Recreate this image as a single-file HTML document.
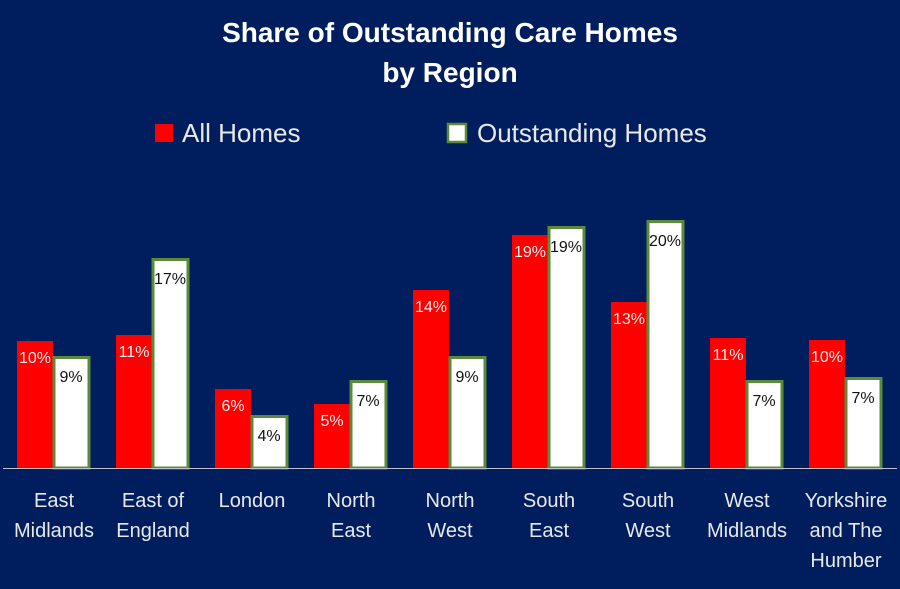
<!DOCTYPE html>
<html><head><meta charset="utf-8"><style>
body{margin:0;background:#001E5E;}
svg{display:block;font-family:"Liberation Sans",sans-serif;}
.rl{fill:#f0f0f0;font-size:16px;text-anchor:middle}
.wl{fill:#111;font-size:16px;text-anchor:middle}
.c{fill:#e8e8e8;font-size:20px;text-anchor:middle}
.r{fill:#f00}
.w{fill:#fff;stroke:#5a8a3a;stroke-width:3}
</style></head><body>
<svg width="900" height="589" viewBox="0 0 900 589">
<rect width="900" height="589" fill="#001E5E"/>
<text x="450" y="42" text-anchor="middle" fill="#fff" font-size="28" font-weight="bold">Share of Outstanding Care Homes</text>
<text x="450" y="82" text-anchor="middle" fill="#fff" font-size="28" font-weight="bold">by Region</text>
<rect x="155" y="124" width="18" height="18" fill="#f00"/>
<text x="182" y="142" fill="#e8e8e8" font-size="26">All Homes</text>
<rect x="448" y="124" width="18" height="18" fill="#fff" stroke="#5a8a3a" stroke-width="2.5"/>
<text x="477" y="142" fill="#e8e8e8" font-size="26">Outstanding Homes</text>

<rect class="r" x="17" y="341" width="36" height="127"/>
<rect class="w" x="54" y="357.5" width="35" height="110.5"/>
<text class="rl" x="35" y="363">10%</text><text class="wl" x="71" y="382">9%</text>
<text class="c" x="54" y="507">East</text><text class="c" x="54" y="537">Midlands</text>

<rect class="r" x="116" y="335" width="36" height="133"/>
<rect class="w" x="153" y="259.5" width="35" height="208.5"/>
<text class="rl" x="134" y="357">11%</text><text class="wl" x="170" y="284">17%</text>
<text class="c" x="153" y="507">East of</text><text class="c" x="153" y="537">England</text>

<rect class="r" x="215" y="389" width="36" height="79"/>
<rect class="w" x="252" y="416.5" width="35" height="51.5"/>
<text class="rl" x="233" y="411">6%</text><text class="wl" x="269" y="441">4%</text>
<text class="c" x="252" y="507">London</text>

<rect class="r" x="314" y="404" width="36" height="64"/>
<rect class="w" x="351" y="381.5" width="35" height="86.5"/>
<text class="rl" x="332" y="426">5%</text><text class="wl" x="368" y="406">7%</text>
<text class="c" x="351" y="507">North</text><text class="c" x="351" y="537">East</text>

<rect class="r" x="413" y="290" width="36" height="178"/>
<rect class="w" x="450" y="357.5" width="35" height="110.5"/>
<text class="rl" x="431" y="312">14%</text><text class="wl" x="467" y="382">9%</text>
<text class="c" x="450" y="507">North</text><text class="c" x="450" y="537">West</text>

<rect class="r" x="512" y="235" width="36" height="233"/>
<rect class="w" x="549" y="227.5" width="35" height="240.5"/>
<text class="rl" x="530" y="257">19%</text><text class="wl" x="566" y="252">19%</text>
<text class="c" x="549" y="507">South</text><text class="c" x="549" y="537">East</text>

<rect class="r" x="611" y="302" width="36" height="166"/>
<rect class="w" x="648" y="221.5" width="35" height="246.5"/>
<text class="rl" x="629" y="324">13%</text><text class="wl" x="665" y="246">20%</text>
<text class="c" x="648" y="507">South</text><text class="c" x="648" y="537">West</text>

<rect class="r" x="710" y="338" width="36" height="130"/>
<rect class="w" x="747" y="381.5" width="35" height="86.5"/>
<text class="rl" x="728" y="360">11%</text><text class="wl" x="764" y="406">7%</text>
<text class="c" x="747" y="507">West</text><text class="c" x="747" y="537">Midlands</text>

<rect class="r" x="809" y="340" width="36" height="128"/>
<rect class="w" x="846" y="378.5" width="35" height="89.5"/>
<text class="rl" x="827" y="362">10%</text><text class="wl" x="863" y="403">7%</text>
<text class="c" x="846" y="507">Yorkshire</text><text class="c" x="846" y="537">and The</text><text class="c" x="846" y="567">Humber</text>

<line x1="3" y1="468.5" x2="897" y2="468.5" stroke="#c0c0c8" stroke-width="1"/>
</svg>
</body></html>
